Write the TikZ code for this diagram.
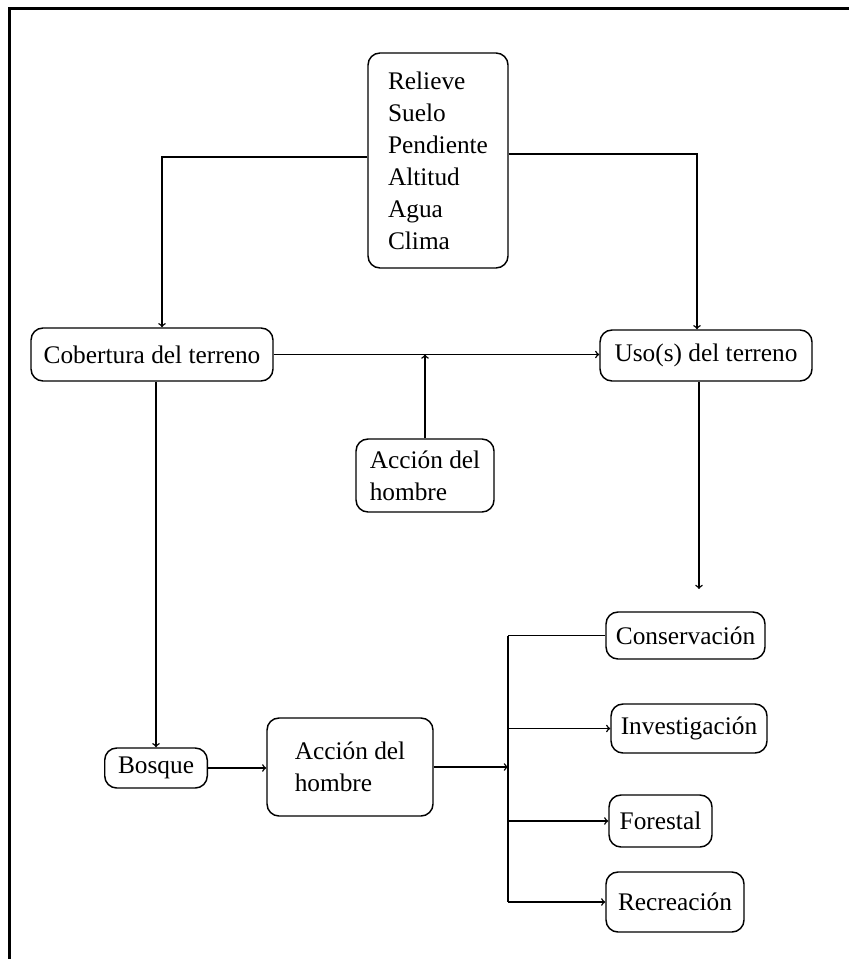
\documentclass[tikz,border=0pt]{standalone}
\usepackage{fontspec}
\setmainfont{Liberation Serif}
\begin{document}
\begin{tikzpicture}[x=0.75pt,y=-0.75pt]
        % Define style for the boxes and arrows
        \tikzstyle{box}=[draw,rounded corners=9pt,line width=1.1pt,inner sep=0pt,align=left,font=\fontsize{19}{24}\selectfont]
        \tikzstyle{flow}=[->,line width=1.1pt]
        
        \useasboundingbox (0,0) rectangle (849,959);
        
        % Draw the frame
        \draw[line width=2.6pt] (9.5,959) -- (9.5,8.5) -- (849,8.5);
        
        % Draw the boxes
        \node[box,minimum width=105pt,minimum height=161.25pt] (factores) at (438,160.5) {Relieve\\Suelo\\Pendiente\\Altitud\\Agua\\Clima};
        \node[box,minimum width=181.5pt,minimum height=39.75pt] (cobertura) at (152,354.5) {Cobertura del terreno};
        \node[box,minimum width=159pt,minimum height=38.25pt] (uso) at (706,355.5) {Uso(s) del terreno};
        \node[box,minimum width=103.5pt,minimum height=54.75pt] (accionA) at (425,475.5) {Acción del\\hombre};
        \node[box,minimum width=76.9pt,minimum height=30pt] (bosque) at (156,768) {Bosque};
        \node[box,minimum width=124.5pt,minimum height=73.5pt] (accionB) at (350,767) {Acción del\\hombre};
        \node[box,minimum width=119.25pt,minimum height=35.25pt] (conservacion) at (685.5,635.5) {Conservación};
        \node[box,minimum width=117pt,minimum height=36.75pt] (investigacion) at (689,728.5) {Investigación};
        \node[box,minimum width=77.25pt,minimum height=39pt] (forestal) at (660.5,821) {Forestal};
        \node[box,minimum width=103.5pt,minimum height=45pt] (recreacion) at (675,902) {Recreación};
        \coordinate (usofin) at (699,589);
        \coordinate (rama) at (508,767);
        
        % Connect the top part
        \draw[flow] ([yshift=2.6pt]factores.west) -| ([xshift=7.5pt]cobertura.north);
        \draw[flow] ([yshift=4.9pt]factores.east) -| ([xshift=-6.75pt]uso.north);
        \draw[flow] (cobertura.east) -- (cobertura.east -| uso.west);
        \draw[flow] (accionA.north) -- (accionA.north |- cobertura.east);
        \draw[flow] (uso.south -| usofin) -- (usofin);
        \draw[flow] (cobertura.south -| bosque.north) -- (bosque.north);
        
        % Connect the bottom part
        \draw[flow] (bosque.east) -- (bosque.east -| accionB.west);
        \draw[flow] (accionB.east) -- (rama);
        \draw[line width=1.1pt] (rama |- conservacion.west) -- (rama |- recreacion.west);
        \draw[line width=1.1pt] (rama |- conservacion.west) -- (conservacion.west);
        \draw[flow] (rama |- investigacion.west) -- (investigacion.west);
        \draw[flow] (rama |- forestal.west) -- (forestal.west);
        \draw[flow] (rama |- recreacion.west) -- (recreacion.west);
        \end{tikzpicture}
\end{document}
